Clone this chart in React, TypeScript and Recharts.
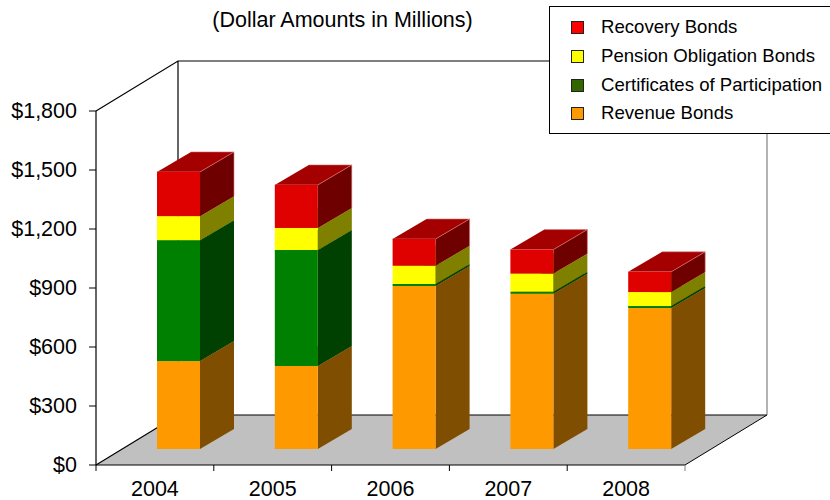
import React from 'react';
import { Bar, BarChart, Legend, XAxis, YAxis } from 'recharts';

const years = ['2004', '2005', '2006', '2007', '2008'];
const revenueBonds = [447, 422, 829, 790, 717];
const certificates = [615, 590, 10, 10, 10];
const pensionBonds = [122, 112, 93, 92, 71];
const recoveryBonds = [225, 219, 136, 122, 103];
const yTicks = [0, 300, 600, 900, 1200, 1500, 1800];

const tableData = years.map((year, i) => ({
    year,
    revenue: revenueBonds[i],
    certificates: certificates[i],
    pension: pensionBonds[i],
    recovery: recoveryBonds[i],
}));

const FONT = '"Liberation Sans", Arial, sans-serif';

// faces of the extruded bars, front / side / top
const faces = {
    revenue: ['#ff9900', '#804e00', '#a86500'],
    certificates: ['#008000', '#004000', '#005400'],
    pension: ['#ffff00', '#808000', '#a8a800'],
    recovery: ['#df0000', '#6e0000', '#a50000'],
};

const makeBox = (key: keyof typeof faces) => (props: any) => {
    const { x, y, width, height } = props;
    const [front, side, top] = faces[key];
    const left = x + 24;
    const right = left + width;
    const up = y - 16;
    const down = up + height;
    const isTop = key === 'recovery';
    return (
        <g>
            <polygon points={`${right},${up} ${right + 34},${up - 20} ${right + 34},${down - 20} ${right},${down}`} fill={side} />
            <polygon
                points={`${left},${up} ${left + 34},${up - 20} ${right + 34},${up - 20} ${right},${up}`}
                fill={top}
            />
            {isTop && (
                <path
                    d={`M${left},${up} L${right},${up} L${right + 34},${up - 20} L${left + 34},${up - 20} M${right + 34},${up - 20} V${down - 20}`}
                    fill="none"
                    stroke="#d88080"
                    strokeWidth={0.6}
                />
            )}
            <rect x={left} y={up} width={width} height={height} fill={front} />
        </g>
    );
};

const XTick = (props: any) => {
    const { x, y, payload, index } = props;
    const band = 117.8;
    return (
        <g>
            <line x1={x - band / 2} x2={x - band / 2} y1={465} y2={471} stroke="#000" />
            {index === years.length - 1 && (
                <line x1={x + band / 2} x2={x + band / 2} y1={465} y2={471} stroke="#808080" />
            )}
            <text x={x} y={y + 23} textAnchor="middle" fontSize={21.5} fontFamily={FONT} fill="#000">
                {payload.value}
            </text>
        </g>
    );
};

const LegendBox = ({ payload }: any) => {
    const items = [...(payload || [])].reverse();
    return (
        <div
            style={{
                position: 'absolute',
                left: 0,
                top: 0,
                width: 300,
                height: 128,
                boxSizing: 'border-box',
                background: '#fff',
                border: '1px solid #000',
                fontFamily: FONT,
                fontSize: 18.6,
                color: '#000',
            }}
        >
            {items.map((item: any, i: number) => (
                <div key={item.value} style={{ position: 'absolute', top: 14 + i * 28.8, left: 21, height: 12, width: 270 }}>
                    <span
                        style={{
                            position: 'absolute',
                            left: 0,
                            top: 0,
                            width: 11,
                            height: 11,
                            background: item.color,
                            border: '1px solid #222',
                        }}
                    />
                    <span style={{ position: 'absolute', left: 30, top: -4, lineHeight: '20px', whiteSpace: 'nowrap' }}>
                        {item.value}
                    </span>
                </div>
            ))}
        </div>
    );
};

export default function App() {
    return (
        <div style={{ position: 'absolute', left: 0, top: 0, width: 830, height: 500, overflow: 'hidden', background: '#fff' }}>
            <BarChart
                width={830}
                height={500}
                data={tableData}
                margin={{ top: 111, right: 145, bottom: 0, left: 0 }}
                barCategoryGap={0}
                barSize={43}
            >
                {/* floor and back wall of the box */}
                <polygon points="96,465 178,415 767,415 685,465" fill="#c0c0c0" />
                <path d="M96,111 L178,61 H767 M178,61 V415 H767 M96,465 L178,415" fill="none" stroke="#000" strokeWidth={1.2} />
                <path d="M767,61 V415" fill="none" stroke="#808080" strokeWidth={1.2} />
                <path d="M685,465 L767,415" fill="none" stroke="#000" strokeWidth={1} />
                <text x={342.5} y={27} textAnchor="middle" fontSize={21.5} fontFamily={FONT} fill="#000">
                    (Dollar Amounts in Millions)
                </text>

                <XAxis
                    dataKey="year"
                    height={35}
                    tick={<XTick />}
                    tickLine={false}
                    axisLine={{ stroke: '#000', strokeWidth: 1.2 }}
                    interval={0}
                />
                <YAxis
                    width={96}
                    domain={[0, 1800]}
                    ticks={yTicks}
                    interval={0}
                    tickSize={7}
                    tickMargin={12}
                    tickFormatter={(v: number) => '$' + v.toLocaleString('en-US')}
                    tick={{ fontSize: 21.5, fontFamily: FONT, fill: '#000', dy: -1 }}
                    tickLine={{ stroke: '#000' }}
                    axisLine={{ stroke: '#000', strokeWidth: 1.2 }}
                />
                <Bar dataKey="revenue" name="Revenue Bonds" stackId="a" fill="#ff9900" shape={makeBox('revenue')} isAnimationActive={false} />
                <Bar dataKey="certificates" name="Certificates of Participation" stackId="a" fill="#336600" shape={makeBox('certificates')} isAnimationActive={false} />
                <Bar dataKey="pension" name="Pension Obligation Bonds" stackId="a" fill="#ffff00" shape={makeBox('pension')} isAnimationActive={false} />
                <Bar dataKey="recovery" name="Recovery Bonds" stackId="a" fill="#ff0000" shape={makeBox('recovery')} isAnimationActive={false} />
                <Legend
                    content={<LegendBox />}
                    itemSorter={null}
                    wrapperStyle={{ position: 'absolute', left: 549, top: 6, width: 0, height: 0 }}
                />
            </BarChart>
        </div>
    );
}
